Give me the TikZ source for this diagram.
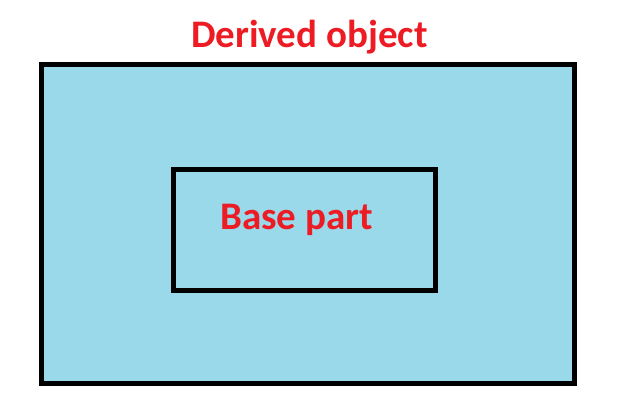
\documentclass[tikz,border=0pt]{standalone}
\usepackage{fontspec}
\setmainfont{Carlito}
\definecolor{paintred}{RGB}{237,28,36}
\definecolor{paintblue}{RGB}{153,217,234}

\begin{document}
\begin{tikzpicture}[x=1pt, y=-1pt,
    box/.style={draw=black, line width=5pt, inner sep=0pt},
    label/.style={text=paintred, font=\fontsize{39}{47}\selectfont\bfseries, anchor=base, inner sep=0pt}]
    \useasboundingbox (0,0) rectangle (644,419);

    % Outer object
    \node[box, fill=paintblue, minimum width=533pt, minimum height=318pt] (derived) at (307.5,224) {};
    \node[label] (derivedlabel) at (309.5,48) {Derived object};

    % Inner part
    \node[box, minimum width=261.5pt, minimum height=121pt] (base) at (304.25,230) {};
    \node[label] (baselabel) at (296.5,230) {Base part};
\end{tikzpicture}
\end{document}
